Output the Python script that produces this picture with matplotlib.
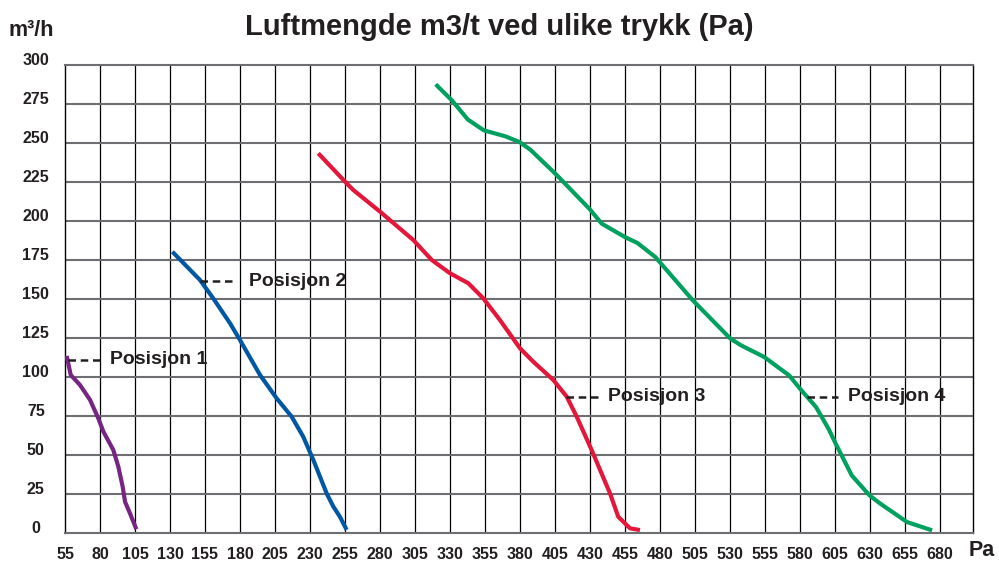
import matplotlib
matplotlib.use("Agg")
import matplotlib.pyplot as plt
from matplotlib.transforms import ScaledTranslation

plt.rcParams["font.family"] = ["Liberation Sans", "DejaVu Sans"]

# --- data --------------------------------------------------------------------
x_ticks = [55, 80, 105, 130, 155, 180, 205, 230, 255, 280, 305, 330, 355, 380,
           405, 430, 455, 480, 505, 530, 555, 580, 605, 630, 655, 680]
y_ticks = [0, 25, 50, 75, 100, 125, 150, 175, 200, 225, 250, 275, 300]

pos1_x = [56.2, 59.1, 65.7, 72.9, 78.8, 82.4, 89.5, 93.1, 96.2, 97.9, 101.4, 106.0]
pos1_y = [113.5, 101.3, 94.9, 85.3, 73.5, 65.0, 53.2, 42.5, 29.7, 20.0, 12.6, 2.4]

pos2_x = [131.7, 151.4, 160.9, 172.9, 180.0, 194.3, 206.2, 216.9, 225.2, 232.4,
          241.9, 246.7, 251.4, 256.2]
pos2_y = [180.3, 162.2, 150.4, 134.4, 123.7, 101.3, 86.3, 74.6, 61.7, 46.8,
          25.4, 16.9, 10.4, 2.0]

pos3_x = [235.9, 256.2, 260.9, 280.0, 303.8, 317.0, 330.0, 343.1, 353.8, 365.7,
          380.0, 389.5, 403.8, 413.4, 420.5, 431.2, 444.3, 450.2, 458.6, 465.7]
pos3_y = [243.4, 224.1, 219.9, 206.0, 187.8, 175.0, 166.5, 160.1, 150.4, 136.5,
          118.4, 109.8, 98.1, 87.4, 74.6, 53.2, 25.4, 10.4, 3.0, 1.9]

pos4_x = [319.8, 331.3, 342.8, 354.2, 369.5, 379.7, 387.4, 405.3, 429.5, 438.4,
          455.0, 463.9, 476.7, 503.5, 530.3, 537.9, 554.5, 572.3, 580.0, 591.5,
          600.4, 605.5, 617.0, 629.7, 637.4, 656.5, 674.4]
pos4_y = [287.6, 277.4, 265.0, 258.1, 254.3, 250.6, 245.7, 230.3, 207.9, 198.3,
          189.7, 185.9, 176.9, 149.1, 124.6, 120.3, 112.8, 101.0, 92.5, 80.7,
          66.8, 57.3, 36.9, 24.1, 18.8, 7.0, 1.7]

# label name, dash start x, dash end x, text x, y
labels = [("Posisjon 1", 57.5, 80, 87, 111),
          ("Posisjon 2", 151.5, 174, 186.5, 161.5),
          ("Posisjon 3", 413, 436, 443, 87.5),
          ("Posisjon 4", 585, 607, 614, 87.5)]

C_TXT = "#231f20"
series = [(pos1_x, pos1_y, "#772583"),
          (pos2_x, pos2_y, "#0057a4"),
          (pos3_x, pos3_y, "#e4163a"),
          (pos4_x, pos4_y, "#00a15f")]

# --- figure -------------------------------------------------------------------
fig = plt.figure(figsize=(9.99, 5.65), dpi=100)
W, H = 999, 565
ax = fig.add_axes([65 / W, 1 - 533 / H, (973 - 65) / W, (533 - 65) / H])
ax.set_xlim(55, 703.6)
ax.set_ylim(0, 300)

for xv in x_ticks[1:]:
    ax.axvline(xv, color="black", lw=0.9, zorder=1)
for yv in y_ticks[1:-1]:
    ax.axhline(yv, color="#6d6e71", lw=1.5, zorder=1)
for side in ["top", "bottom"]:
    ax.spines[side].set_color("#6d6e71")
    ax.spines[side].set_linewidth(1.5)
for side in ["left", "right"]:
    ax.spines[side].set_color("black")
    ax.spines[side].set_linewidth(1.0)

for xs, ys, col in series:
    ax.plot(xs, ys, color=col, lw=3.0, solid_joinstyle="round",
            solid_capstyle="butt", zorder=4)

for name, x0, x1, xt, yv in labels:
    ax.plot([x0, x1], [yv, yv], color=C_TXT, lw=1.8, dashes=(3, 1.9), zorder=5)
    ax.text(xt, yv, name, fontsize=14, fontweight="bold",
            color=C_TXT, ha="left", va="center", zorder=6)

ax.set_xticks(x_ticks)
ax.set_xticklabels([str(v) for v in x_ticks])
ax.set_yticks(y_ticks)
ax.set_yticklabels([str(v) for v in y_ticks])
ax.tick_params(axis="both", length=0, labelsize=11.5, labelcolor=C_TXT)
ax.tick_params(axis="x", pad=10)
ax.tick_params(axis="y", pad=21)
shift = ScaledTranslation(0, 6 / 100, fig.dpi_scale_trans)
for lbl in ax.get_yticklabels():
    lbl.set_horizontalalignment("center")
    lbl.set_fontweight("bold")
    lbl.set_transform(lbl.get_transform() + shift)
for lbl in ax.get_xticklabels():
    lbl.set_fontweight("bold")

fig.text(499 / W, 1 - 27 / H, "Luftmengde m3/t ved ulike trykk (Pa)",
         fontsize=21, fontweight="bold", color=C_TXT, ha="center", va="center")
fig.text(8 / W, 1 - 31 / H, "m³/h", fontsize=15.5, fontweight="bold",
         color=C_TXT, ha="left", va="center")
fig.text(969 / W, 1 - 550 / H, "Pa", fontsize=15.5, fontweight="bold",
         color=C_TXT, ha="left", va="center")

fig.savefig("out.png", dpi=100)
